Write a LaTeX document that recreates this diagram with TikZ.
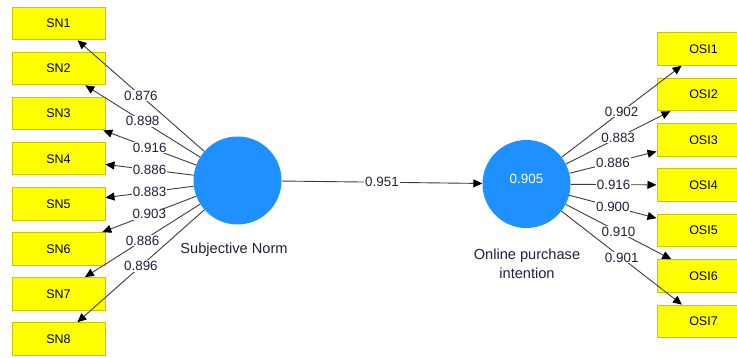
\documentclass[tikz,border=0pt]{standalone}
\usepackage{fontspec}
\setmainfont{Liberation Sans}
\usetikzlibrary{arrows.meta}
\definecolor{boxfill}{RGB}{255,255,0}
\definecolor{boxline}{RGB}{200,200,0}
\definecolor{lvblue}{RGB}{30,144,255}
\definecolor{txt}{RGB}{35,30,60}
\definecolor{edgecol}{RGB}{60,60,60}
\begin{document}
\begin{tikzpicture}[x=1pt,y=-1pt,
  ind/.style={draw=boxline, fill=boxfill, line width=1pt, minimum width=93pt, minimum height=32.5pt, inner sep=0pt, font=\fontsize{12.5}{14}\selectfont, text=black},
  lv/.style={circle, fill=lvblue, minimum size=88pt, inner sep=0pt},
  ld/.style={draw=edgecol, line width=0.9pt, -{Triangle[length=9pt,width=8pt,color=black]}},
  wt/.style={midway, fill=white, inner sep=0.8pt, font=\fontsize{13.4}{15}\selectfont, text=txt},
  lvcap/.style={font=\fontsize{14.6}{19}\selectfont, text=txt, align=center, inner sep=0pt}
]
\clip (0,0) rectangle (737,358);
\fill[white] (0,0) rectangle (737,358);
\node[lv] (sn) at (237.5,180.5) {};
\node[lv] (opi) at (526.5,184) {};
\node[font=\fontsize{13.4}{15}\selectfont, text=white, inner sep=0pt] (r2) at (526.5,179) {0.905};
\foreach \i in {1,...,8}
  \node[ind] (sn\i) at (58.5,{23.5+45.07*(\i-1)}) {SN\i};
\foreach \i in {1,...,7}
  \node[ind] (osi\i) at (703.5,{49+45.4*(\i-1)}) {OSI\i};
\foreach \i/\w in {1/0.876,2/0.898,3/0.916,4/0.886,5/0.883,6/0.903,7/0.886,8/0.896}
  \draw[ld] (sn) -- (sn\i) node[wt] {\w};
\foreach \i/\w in {1/0.902,2/0.883,3/0.886,4/0.916,5/0.900,6/0.910,7/0.901}
  \draw[ld] (opi) -- (osi\i) node[wt] {\w};
\draw[ld] (sn) -- (opi) node[wt] {0.951};
\node[lvcap] (snlab) at (234,250) {Subjective Norm};
\node[lvcap] (opilab) at (527,263.5) {Online purchase\\intention};
\end{tikzpicture}
\end{document}
